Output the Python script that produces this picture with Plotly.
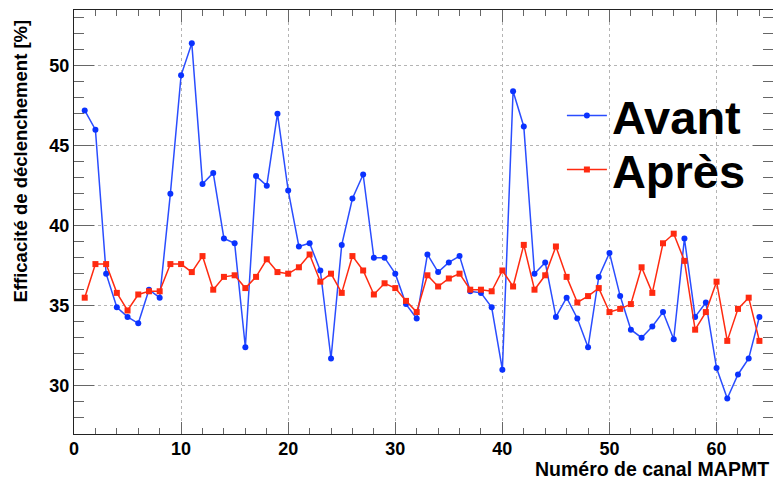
import plotly.graph_objects as go

channels = list(range(1, 65))

avant = [47.2, 46.0, 37.0, 34.9, 34.3, 33.9, 36.0, 35.5, 42.0, 49.4,
         51.4, 42.6, 43.3, 39.2, 38.9, 32.4, 43.1, 42.5, 47.0, 42.2,
         38.7, 38.9, 37.2, 31.7, 38.8, 41.7, 43.2, 38.0, 38.0, 37.0,
         35.1, 34.2, 38.2, 37.1, 37.7, 38.1, 35.9, 35.8, 34.9, 31.0,
         48.4, 46.2, 37.0, 37.7, 34.3, 35.5, 34.2, 32.4, 36.8, 38.3,
         35.6, 33.5, 33.0, 33.7, 34.6, 32.9, 39.2, 34.3, 35.2, 31.1,
         29.2, 30.7, 31.7, 34.3]

apres = [35.5, 37.6, 37.6, 35.8, 34.7, 35.7, 35.9, 35.9, 37.6, 37.6,
         37.1, 38.1, 36.0, 36.8, 36.9, 36.1, 36.8, 37.9, 37.1, 37.0,
         37.4, 38.2, 36.5, 37.0, 35.8, 38.1, 37.2, 35.7, 36.4, 36.1,
         35.3, 34.6, 36.9, 36.2, 36.7, 37.0, 36.0, 36.0, 35.9, 37.2,
         36.2, 38.8, 36.0, 36.9, 38.7, 36.8, 35.2, 35.6, 36.1, 34.6,
         34.8, 35.1, 37.4, 35.8, 38.9, 39.5, 37.8, 33.5, 34.6, 36.5,
         32.8, 34.8, 35.5, 32.8]

series_names = ["Avant", "Après"]
x_title = "Numéro de canal MAPMT"
y_title = "Efficacité de déclenchement [%]"

FONT = "Liberation Sans, Arial, Helvetica, sans-serif"

fig = go.Figure()
fig.add_trace(go.Scatter(
    x=channels, y=avant, name=series_names[0], mode="lines+markers",
    line=dict(color="#2a4dff", width=1.5),
    marker=dict(color="#0a32ff", size=6, symbol="circle"),
    legend="legend",
))
fig.add_trace(go.Scatter(
    x=channels, y=apres, name=series_names[1], mode="lines+markers",
    line=dict(color="#ff2a10", width=1.5),
    marker=dict(color="#ff2a10", size=6, symbol="square"),
    legend="legend2",
))

axis_common = dict(
    showline=True, linecolor="#222", linewidth=1, mirror="ticks",
    ticks="inside", tickcolor="#666", tickwidth=1,
    showgrid=True, gridcolor="#b4b4b4", griddash="dot", gridwidth=1,
    zeroline=False, automargin=False,
    tickfont=dict(family=FONT, size=18, color="black", weight="bold"),
)

fig.update_xaxes(
    range=[0, 65.27], tick0=0, dtick=10, ticklen=12, ticklabelstandoff=-2,
    minor=dict(ticks="inside", ticklen=6, dtick=2, tick0=0, tickcolor="#666", showgrid=False),
    **axis_common,
)
fig.update_yaxes(
    range=[26.98, 53.48], tick0=0, dtick=5, ticklen=20,
    minor=dict(ticks="inside", ticklen=10, dtick=1, tick0=0, tickcolor="#666", showgrid=False),
    **axis_common,
)

fig.add_annotation(
    text=x_title, xref="paper", yref="paper", x=1, y=0,
    xanchor="right", yanchor="bottom", yshift=-48, xshift=-2, showarrow=False,
    font=dict(family=FONT, size=19.5, color="black", weight="bold"),
)
fig.add_annotation(
    text=y_title, xref="paper", yref="paper", x=0, y=1,
    xanchor="center", yanchor="top", xshift=-54, yshift=-8, textangle=-90, showarrow=False,
    font=dict(family=FONT, size=18.5, color="black", weight="bold"),
)

legend_common = dict(
    x=0.698, xanchor="left", yanchor="middle",
    bgcolor="rgba(0,0,0,0)", borderwidth=0,
    font=dict(family=FONT, size=47, color="black", weight="bold"),
    itemwidth=40,
)

fig.update_layout(
    width=773, height=481,
    margin=dict(l=74, r=0, t=10, b=47, autoexpand=False),
    paper_bgcolor="white", plot_bgcolor="white",
    showlegend=True,
    legend=dict(y=0.75, **legend_common),
    legend2=dict(y=0.623, **legend_common),
)

# remove the default page margin so the figure fills the 773x481 window
fig.write_html(
    "out.html",
    config={"displayModeBar": False},
    post_script="document.body.style.margin='0';document.body.style.overflow='hidden';",
)
